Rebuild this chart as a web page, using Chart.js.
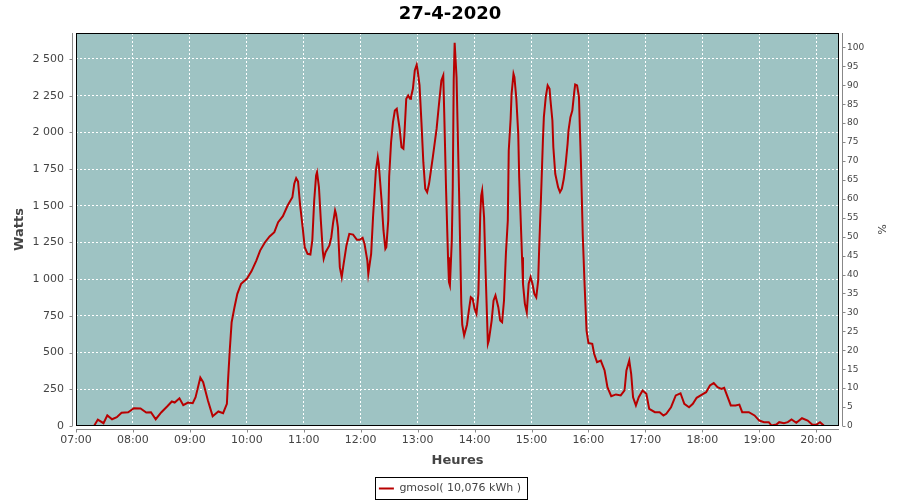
<!DOCTYPE html>
<html>
<head>
<meta charset="utf-8">
<title>27-4-2020</title>
<script src="https://cdn.jsdelivr.net/npm/chart.js@4.4.0/dist/chart.umd.min.js"></script>
<style>
  html, body { margin: 0; padding: 0; background: #fff; }
</style>
</head>
<body>
<canvas id="line-chartcanvas" width="900" height="500"></canvas>
<script>
// releve gmosol du 27-4-2020 (heure, watts)
var heures = [
  "07:13","07:19","07:23","07:29","07:33","07:38","07:43","07:48","07:55","08:01",
  "08:08","08:14","08:19","08:24","08:30","08:36","08:41","08:44","08:49","08:53",
  "08:58","09:03","09:06","09:11","09:14","09:19","09:24","09:30","09:35","09:39",
  "09:40","09:42","09:44","09:47","09:50","09:54","10:00","10:05","10:10","10:14",
  "10:19","10:24","10:29","10:33","10:38","10:43","10:48","10:50","10:52","10:54",
  "10:56","10:59","11:01","11:04","11:07","11:09","11:11","11:13","11:14","11:16",
  "11:18","11:20","11:21","11:23","11:27","11:29","11:31","11:33","11:34","11:36",
  "11:38","11:40","11:42","11:45","11:48","11:52","11:56","11:59","12:02","12:04",
  "12:07","12:08","12:11","12:13","12:16","12:18","12:19","12:22","12:24","12:26",
  "12:27","12:29","12:30","12:32","12:34","12:36","12:38","12:39","12:41","12:43",
  "12:45","12:46","12:48","12:50","12:52","12:53","12:55","12:57","12:59","13:00",
  "13:02","13:04","13:06","13:08","13:10","13:12","13:14","13:16","13:20","13:22",
  "13:25","13:27","13:28","13:30","13:32","13:33","13:34","13:36","13:37","13:38",
  "13:39","13:41","13:42","13:44","13:46","13:47","13:49","13:52","13:54","13:56",
  "13:58","14:00","14:02","14:04","14:06","14:07","14:08","14:10","14:12","14:14",
  "14:15","14:18","14:20","14:22","14:25","14:27","14:29","14:31","14:33","14:35",
  "14:36","14:38","14:39","14:41","14:42","14:44","14:46","14:47","14:48","14:50",
  "14:51","14:53","14:55","14:57","14:59","15:01","15:03","15:05","15:07","15:08",
  "15:10","15:12","15:13","15:15","15:17","15:19","15:20","15:22","15:23","15:25",
  "15:28","15:30","15:32","15:34","15:36","15:38","15:39","15:41","15:43","15:45",
  "15:46","15:48","15:50","15:51","15:52","15:54","15:56","15:58","16:00","16:04",
  "16:06","16:09","16:13","16:17","16:20","16:24","16:29","16:34","16:38","16:40",
  "16:43","16:45","16:47","16:50","16:53","16:57","17:01","17:04","17:10","17:15",
  "17:19","17:22","17:27","17:32","17:37","17:41","17:46","17:50","17:54","18:00",
  "18:04","18:08","18:12","18:16","18:20","18:23","18:26","18:30","18:35","18:39",
  "18:42","18:49","18:55","19:00","19:05","19:10","19:13","19:18","19:21","19:26",
  "19:30","19:34","19:39","19:45","19:51","19:56","20:00","20:04","20:08"
];
var watts = [
  0, 0, 44, 19, 72, 46, 60, 90, 94, 121,
  119, 92, 94, 46, 94, 133, 167, 160, 189, 142,
  160, 155, 196, 330, 298, 174, 67, 99, 87, 151,
  287, 514, 707, 809, 900, 969, 1003, 1055, 1127, 1195,
  1250, 1291, 1320, 1388, 1429, 1502, 1558, 1650, 1688, 1665,
  1514, 1343, 1218, 1173, 1168, 1264, 1536, 1706, 1729, 1627,
  1400, 1195, 1139, 1184, 1230, 1286, 1388, 1468, 1445, 1354,
  1082, 1014, 1105, 1230, 1309, 1304, 1268, 1268, 1282, 1241,
  1127, 1037, 1173, 1422, 1740, 1831, 1786, 1536, 1332, 1207,
  1218, 1400, 1700, 1933, 2070, 2149, 2161, 2115, 2025, 1899,
  1888, 1979, 2229, 2251, 2229, 2240, 2297, 2422, 2460, 2422,
  2320, 2070, 1797, 1616, 1593, 1650, 1740, 1831, 2025, 2161,
  2353, 2388, 2138, 1600, 1150, 980, 957, 1264, 1627, 2353,
  2610, 2376, 2081, 1490, 832, 690, 617, 690, 787, 877,
  866, 798, 764, 900, 1445, 1570, 1604, 1422, 969, 560,
  582, 718, 855, 889, 809, 718, 707, 855, 1173, 1400,
  1877, 2093, 2263, 2399, 2376, 2229, 1990, 1695, 1514, 1150,
  969, 832, 775, 969, 1014, 969, 900, 877, 991, 1195,
  1558, 1945, 2104, 2240, 2320, 2297, 2217, 2081, 1899, 1718,
  1627, 1593, 1616, 1684, 1786, 1922, 2013, 2104, 2149, 2274,
  2326, 2320, 2240, 2013, 1808, 1300, 950, 650, 565, 560,
  492, 435, 446, 378, 264, 203, 215, 208, 242, 378,
  446, 356, 196, 140, 196, 242, 219, 117, 94, 94,
  72, 83, 128, 208, 223, 151, 128, 151, 192, 215,
  230, 276, 292, 264, 253, 260, 208, 140, 140, 146,
  94, 94, 72, 37, 26, 26, 3, 10, 26, 19,
  26, 44, 22, 53, 37, 8, 8, 26, 3
];

var heuresTicks = [7, 8, 9, 10, 11, 12, 13, 14, 15, 16, 17, 18, 19, 20];
var wattsTicks = [0, 250, 500, 750, 1000, 1250, 1500, 1750, 2000, 2250, 2500];
var pourcentTicks = [0, 5, 10, 15, 20, 25, 30, 35, 40, 45, 50, 55, 60, 65, 70, 75, 80, 85, 90, 95, 100];

var serieNom = "gmosol( 10,076 kWh )";

function enHeures(s) {
  var p = s.split(":");
  return parseInt(p[0], 10) + parseInt(p[1], 10) / 60;
}

var points = [];
for (var i = 0; i < heures.length; i++) {
  points.push({ x: enHeures(heures[i]), y: watts[i] });
}

function fixTicks(liste) {
  return function (scale) {
    scale.ticks = liste.map(function (v) { return { value: v }; });
  };
}

// fond du graphe, cadre, axes gris et cadre de la legende
var cadre = {
  id: "cadre",
  afterLayout: function (chart) {
    chart.legend.top += 4;
    chart.legend.bottom += 4;
  },
  beforeDraw: function (chart) {
    var a = chart.chartArea, ctx = chart.ctx;
    ctx.save();
    ctx.fillStyle = "#fff";
    ctx.fillRect(0, 0, chart.width, chart.height);
    ctx.fillStyle = "#9ec3c3";
    ctx.fillRect(a.left, a.top, a.right - a.left, a.bottom - a.top);
    ctx.restore();
  },
  afterDraw: function (chart) {
    var a = chart.chartArea, ctx = chart.ctx;
    ctx.save();
    ctx.lineWidth = 1;
    ctx.strokeStyle = "#000";
    ctx.strokeRect(Math.round(a.left) + 0.5, Math.round(a.top) + 0.5,
      Math.round(a.right - a.left) - 1, Math.round(a.bottom - a.top) - 1);

    ctx.strokeStyle = "#888";
    ctx.beginPath();
    var lx = Math.round(a.left) - 3.5, by = Math.round(a.bottom) + 3.5, rx = Math.round(a.right) + 3.5;
    ctx.moveTo(lx, a.top); ctx.lineTo(lx, a.bottom);
    ctx.moveTo(a.left, by); ctx.lineTo(a.right, by);
    ctx.moveTo(rx, a.top); ctx.lineTo(rx, a.bottom);

    var sx = chart.scales.x, sy = chart.scales.y, sp = chart.scales.y1;
    sx.ticks.forEach(function (t) {
      var px = Math.round(sx.getPixelForValue(t.value)) + 0.5;
      ctx.moveTo(px, by); ctx.lineTo(px, by + 3);
    });
    sy.ticks.forEach(function (t) {
      var py = Math.round(sy.getPixelForValue(t.value)) + 0.5;
      ctx.moveTo(lx, py); ctx.lineTo(lx - 3, py);
    });
    sp.ticks.forEach(function (t) {
      var py = Math.round(sp.getPixelForValue(t.value)) + 0.5;
      ctx.moveTo(rx, py); ctx.lineTo(rx + 3, py);
    });
    ctx.stroke();

    var h = chart.legend.legendHitBoxes[0];
    if (h) {
      ctx.strokeStyle = "#000";
      ctx.strokeRect(Math.round(h.left) - 3.5, Math.round(h.top) - 5.5,
        Math.round(h.width) + 10, 22);
    }
    ctx.restore();
  }
};

Chart.defaults.font.family = "'DejaVu Sans', 'Liberation Sans', sans-serif";

var ctx = document.getElementById("line-chartcanvas");

var chart = new Chart(ctx, {
  type: "line",
  data: {
    datasets: [{
      label: serieNom,
      data: points,
      borderColor: "#b80000",
      backgroundColor: "#b80000",
      borderWidth: 2,
      pointRadius: 0,
      tension: 0,
      fill: false,
      yAxisID: "y"
    }]
  },
  options: {
    responsive: false,
    animation: false,
    layout: { padding: 0 },
    plugins: {
      title: {
        display: true,
        text: "27-4-2020",
        color: "#000",
        font: { size: 18, weight: "bold", lineHeight: "22px" },
        padding: { top: 3, bottom: 8 }
      },
      legend: {
        position: "bottom",
        labels: {
          usePointStyle: true,
          pointStyle: "line",
          pointStyleWidth: 15,
          padding: 6,
          color: "#444",
          font: { size: 11 }
        }
      },
      tooltip: { enabled: false }
    },
    scales: {
      x: {
        type: "linear",
        min: 7,
        max: 20.4,
        afterBuildTicks: fixTicks(heuresTicks),
        afterFit: function (scale) { scale.height = 47; },
        grid: { color: "#fff", lineWidth: 1, drawTicks: false },
        border: { display: false, dash: [2, 2] },
        ticks: {
          autoSkip: false,
          maxRotation: 0,
          padding: 8,
          color: "#444",
          font: { size: 11 },
          callback: function (v) { return (v < 10 ? "0" : "") + v + ":00"; }
        },
        title: {
          display: true,
          text: "Heures",
          color: "#444",
          font: { size: 13, weight: "bold" },
          padding: { top: 0, bottom: 5 }
        }
      },
      y: {
        position: "left",
        min: 0,
        max: 2677,
        afterBuildTicks: fixTicks(wattsTicks),
        afterFit: function (scale) { scale.width = 76; },
        grid: { color: "#fff", lineWidth: 1, drawTicks: false },
        border: { display: false, dash: [2, 2] },
        ticks: {
          autoSkip: false,
          padding: 12,
          color: "#444",
          font: { size: 11 },
          callback: function (v) {
            if (v >= 1000) {
              var r = v % 1000;
              return Math.floor(v / 1000) + " " + (r < 10 ? "00" : r < 100 ? "0" : "") + r;
            }
            return "" + v;
          }
        },
        title: {
          display: true,
          text: "Watts",
          color: "#444",
          font: { size: 13, weight: "bold" },
          padding: { top: 12, bottom: 0 }
        }
      },
      y1: {
        position: "right",
        min: 0,
        max: 103.8,
        afterBuildTicks: fixTicks(pourcentTicks),
        afterFit: function (scale) { scale.width = 61; },
        grid: { display: false, drawTicks: false },
        border: { display: false },
        ticks: {
          autoSkip: false,
          padding: 8,
          color: "#444",
          font: { size: 9 }
        },
        title: {
          display: true,
          text: "%",
          color: "#444",
          font: { size: 11 },
          padding: { top: 13, bottom: 0 }
        }
      }
    }
  },
  plugins: [cadre]
});
</script>
</body>
</html>
